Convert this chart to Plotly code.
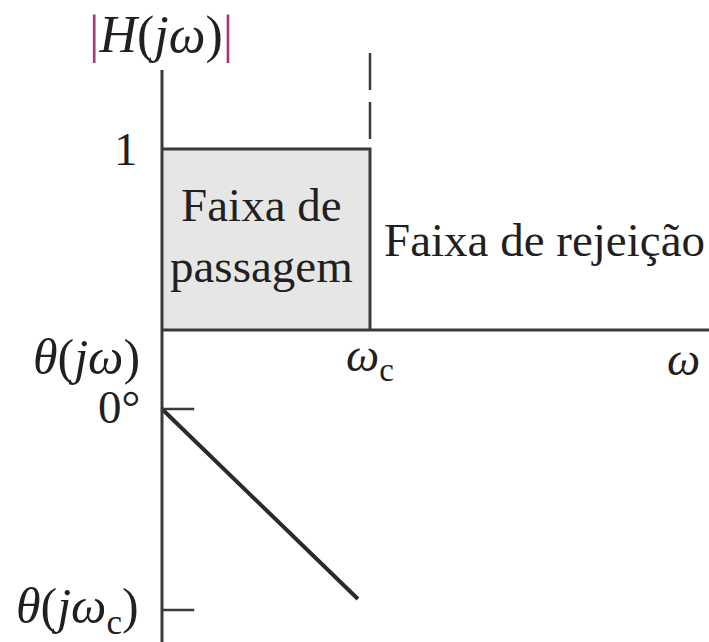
import plotly.graph_objects as go

# Ideal low-pass filter: magnitude and phase responses (omega normalised to omega_c)
omega_c = 1.0
mag_w = [0.0, 1.0, 1.0]          # passband edge of |H(jw)|
mag_h = [1.0, 1.0, 0.0]
cutoff_mark = [1.0, 1.53]        # dashed marker above the cutoff
phase_w = [0.0, 0.942]           # linear phase, in units of |theta(j wc)|
phase_theta = [0.0, -0.945]
mag_ticks = [1.0]
phase_ticks = [0.0, -1.0]
x_max = 2.63

INK = "#231f20"
LINE = "#3a3a3a"
FONT = "Liberation Serif"
FS = 47

fig = go.Figure()

# passband block
fig.add_trace(go.Scatter(
    x=mag_w, y=mag_h, mode="lines", fill="tozeroy",
    fillcolor="#e6e6e6", line=dict(color=LINE, width=3),
    yaxis="y", showlegend=False, hoverinfo="skip"))

# dashed cutoff marker
fig.add_trace(go.Scatter(
    x=[omega_c, omega_c], y=[cutoff_mark[1], cutoff_mark[0]], mode="lines",
    line=dict(color=LINE, width=2.5, dash="37px,12px"),
    yaxis="y", showlegend=False, hoverinfo="skip"))

# phase response
fig.add_trace(go.Scatter(
    x=phase_w, y=phase_theta, mode="lines",
    line=dict(color="#2a2a2a", width=4),
    yaxis="y2", showlegend=False, hoverinfo="skip"))

shapes = [
    # vertical axis (shared)
    dict(type="line", xref="x", yref="paper", x0=0, x1=0, y0=0, y1=0.891,
         line=dict(color=LINE, width=3)),
    # omega axis of the magnitude plot
    dict(type="line", xref="x", yref="y", x0=0, x1=x_max, y0=0, y1=0,
         line=dict(color=LINE, width=3)),
]
tick_len = 0.155
for t in phase_ticks:
    shapes.append(dict(type="line", xref="x", yref="y2", x0=0, x1=tick_len, y0=t, y1=t,
                       line=dict(color=LINE, width=2.5)))

bar = "<span style='color:#a3376f'>|</span>"
ann = [
    dict(text=bar + "<i>H</i>(<i>j\u03c9</i>)" + bar, x=-0.005, y=1.63, yref="y",
         xanchor="center", yanchor="middle", size=52),
    dict(text="1", x=-0.105, y=mag_ticks[0], yref="y", xanchor="right", yanchor="middle"),
    dict(text="Faixa de<br>passagem", x=0.48, y=0.52, yref="y",
         xanchor="center", yanchor="middle"),
    dict(text="Faixa de rejeição", x=1.06, y=0.497, yref="y",
         xanchor="left", yanchor="middle"),
    dict(text="<i>\u03b8</i>(<i>j\u03c9</i>)", x=-0.365, y=-0.15, yref="y",
         xanchor="center", yanchor="middle", size=50),
    dict(text="<i>\u03c9</i><sub>c</sub>", x=omega_c, y=-0.16, yref="y",
         xanchor="center", yanchor="middle"),
    dict(text="<i>\u03c9</i>", x=2.505, y=-0.16, yref="y",
         xanchor="center", yanchor="middle"),
    dict(text="0°", x=-0.095, y=phase_ticks[0] + 0.01, yref="y2", xanchor="right",
         yanchor="middle"),
    dict(text="<i>\u03b8</i>(<i>j\u03c9</i><sub>c</sub>)", x=-0.1, y=phase_ticks[1],
         yref="y2", xanchor="right", yanchor="middle", size=50),
]
for a in ann:
    size = a.pop("size", FS)
    a.update(xref="x", showarrow=False, font=dict(family=FONT, size=size, color=INK))

fig.update_layout(
    width=709, height=642,
    margin=dict(l=0, r=0, t=0, b=0),
    paper_bgcolor="white", plot_bgcolor="white",
    xaxis=dict(range=[-0.7788, 2.6298], visible=False, fixedrange=True),
    yaxis=dict(range=[-1.7238, 1.8232], visible=False, fixedrange=True),
    yaxis2=dict(range=[-1.159, 2.0348], visible=False, overlaying="y", fixedrange=True),
    shapes=shapes,
    annotations=ann,
)

fig.write_html("out.html")
